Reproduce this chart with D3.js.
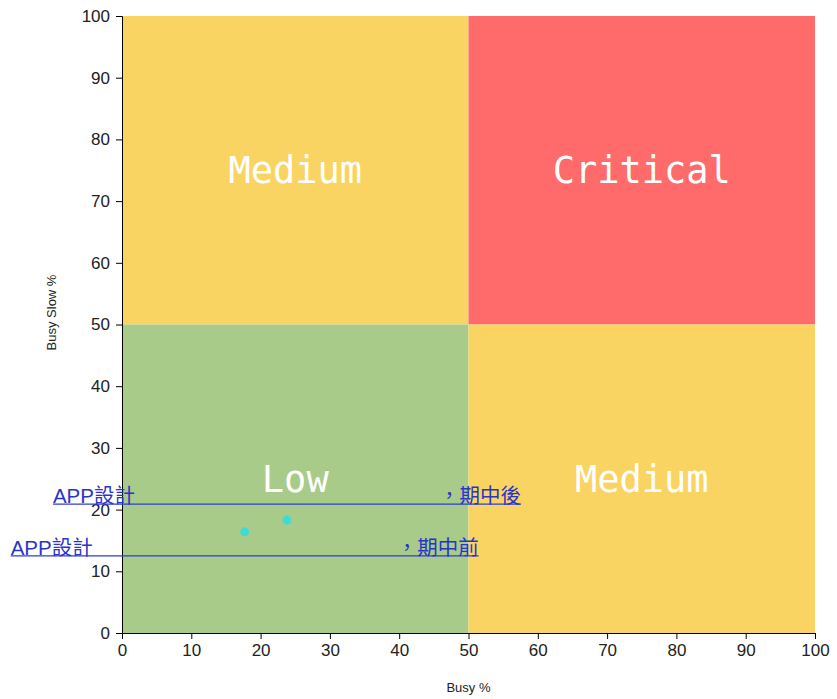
<!DOCTYPE html>
<html>
<head>
<meta charset="utf-8">
<script src="https://cdn.jsdelivr.net/npm/d3@7"></script>
<style>
  body { margin: 0; background: #fff; }
  .axis text { font-family: "Liberation Sans", Arial, sans-serif; font-size: 17px; fill: #222; }
  .axis path, .axis line { stroke: #000; }
  .axis-title { font-family: "Liberation Sans", Arial, sans-serif; font-size: 13px; fill: #222; }
  .quad-label { font-family: "DejaVu Sans Mono", monospace; font-size: 37px; fill: #fff; }
  .pt-label { font-family: "Liberation Sans", "Noto Sans CJK TC", sans-serif; font-size: 20.5px; fill: #2a35c8; }
</style>
</head>
<body>
<svg id="chart"></svg>
<script>
// quadrants (data units)
var quadNames = ['Medium', 'Critical', 'Low', 'Medium']
var quadX0 = [0, 50, 0, 50]
var quadX1 = [50, 100, 50, 100]
var quadY0 = [50, 50, 0, 0]
var quadY1 = [100, 100, 50, 50]
var quadColors = ['#fad462', '#fe6b6a', '#a8cb8a', '#fad462']

// points
var pointNames = ['APP設計', 'APP設計']
var pointSuffix = ['，期中前', '，期中後']
var busy = [17.7, 23.8]
var busySlow = [16.4, 18.3]

var ticks = [0, 10, 20, 30, 40, 50, 60, 70, 80, 90, 100]

var W = 837, H = 699
var margin = { top: 16, right: 22, bottom: 66, left: 122 }
var width = W - margin.left - margin.right
var height = H - margin.top - margin.bottom

var svg = d3.select('#chart').attr('width', W).attr('height', H)
var g = svg.append('g').attr('transform', 'translate(' + margin.left + ',' + margin.top + ')')

var x = d3.scaleLinear().domain([0, 100]).range([0, width])
var y = d3.scaleLinear().domain([0, 100]).range([height, 0])

var quads = quadNames.map(function(n, i) {
  return { name: n, x0: quadX0[i], x1: quadX1[i], y0: quadY0[i], y1: quadY1[i], color: quadColors[i] }
})

g.selectAll('rect.quad')
  .data(quads)
  .enter().append('rect')
  .attr('class', 'quad')
  .attr('x', function(d) { return x(d.x0) })
  .attr('y', function(d) { return y(d.y1) })
  .attr('width', function(d) { return x(d.x1) - x(d.x0) })
  .attr('height', function(d) { return y(d.y0) - y(d.y1) })
  .attr('fill', function(d) { return d.color })

g.selectAll('text.quad-label')
  .data(quads)
  .enter().append('text')
  .attr('class', 'quad-label')
  .attr('x', function(d) { return x((d.x0 + d.x1) / 2) })
  .attr('y', function(d) { return y((d.y0 + d.y1) / 2) })
  .attr('text-anchor', 'middle')
  .attr('dy', '0.35em')
  .text(function(d) { return d.name })

// axes
g.append('g')
  .attr('class', 'axis')
  .attr('transform', 'translate(0,' + height + ')')
  .call(d3.axisBottom(x).tickValues(ticks).tickSizeOuter(6).tickPadding(5))

g.append('g')
  .attr('class', 'axis')
  .call(d3.axisLeft(y).tickValues(ticks).tickSizeOuter(6).tickPadding(6))

g.append('text')
  .attr('class', 'axis-title')
  .attr('x', width / 2)
  .attr('y', height + 59)
  .attr('text-anchor', 'middle')
  .text('Busy %')

g.append('text')
  .attr('class', 'axis-title')
  .attr('transform', 'translate(' + (-66) + ',' + (height / 2 - 12) + ') rotate(-90)')
  .attr('text-anchor', 'middle')
  .text('Busy Slow %')

var pts = busy.map(function(b, i) {
  return { name: pointNames[i], suffix: pointSuffix[i], x: b, y: busySlow[i] }
})

// labels (underlined, centred on point)
var labelDy = [24, -16]
var halfW = 234
var lab = g.selectAll('g.pt-label')
  .data(pts)
  .enter().append('g')
  .attr('transform', function(d, i) {
    return 'translate(' + x(d.x) + ',' + (y(d.y) + labelDy[i]) + ')'
  })

lab.append('line')
  .attr('x1', -halfW).attr('x2', halfW)
  .attr('stroke', '#2b3fd0').attr('stroke-width', 1.3)

lab.append('text')
  .attr('class', 'pt-label')
  .attr('x', -halfW).attr('y', -1)
  .text(function(d) { return d.name })

lab.append('text')
  .attr('class', 'pt-label')
  .attr('x', halfW).attr('y', -1)
  .attr('text-anchor', 'end')
  .text(function(d) { return d.suffix })

g.selectAll('circle.pt')
  .data(pts)
  .enter().append('circle')
  .attr('class', 'pt')
  .attr('cx', function(d) { return x(d.x) })
  .attr('cy', function(d) { return y(d.y) })
  .attr('r', 4.5)
  .attr('fill', '#3fdcd6')
</script>
</body>
</html>
